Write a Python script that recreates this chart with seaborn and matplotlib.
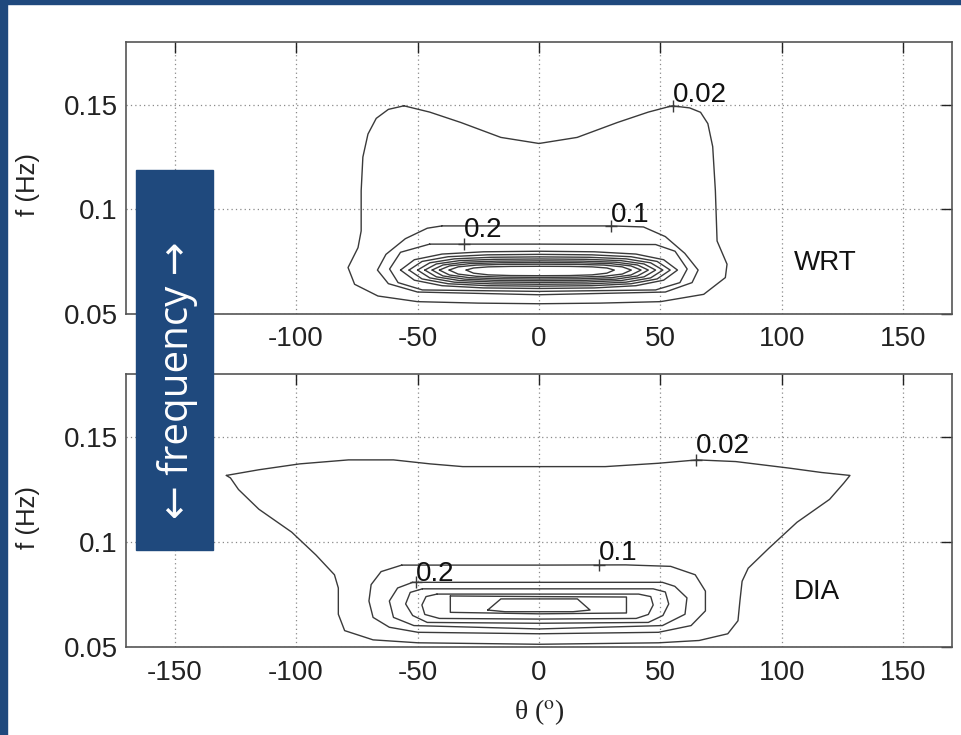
import numpy as np
import pandas as pd
import matplotlib
matplotlib.use("Agg")
import matplotlib.pyplot as plt
import seaborn as sns
from matplotlib.patches import Rectangle

# ---------------- data ----------------
x_ticks = [-150, -100, -50, 0, 50, 100, 150]
x_tick_labels = ["-150", "-100", "-50", "0", "50", "100", "150"]
y_ticks = [0.05, 0.10, 0.15]
y_tick_labels = ["0.05", "0.1", "0.15"]

# WRT panel: outer contours (theta in deg, f in Hz)
wrt_002_theta = [-55.6, -62, -67, -70.4, -72.5, -73.2, -73.2, -74.5, -78.6, -75.9, -66.3, -50, -25, 0, 25,
                 50, 67.8, 76.7, 77.4, 73.3, 72.6, 71.5, 69.5, 66.5, 62, 54.8, 45, 32.2, 15.7, 0, -15.7,
                 -32.1, -45, -55.6]
wrt_002_f = [0.1495, 0.1478, 0.1435, 0.1360, 0.1250, 0.1089, 0.0897, 0.0817, 0.0722, 0.0642, 0.0586, 0.0559,
             0.0552, 0.0549, 0.0552, 0.0559, 0.0594, 0.0674, 0.0738, 0.0849, 0.1089, 0.1300, 0.1410, 0.1464,
             0.1485, 0.1495, 0.1465, 0.1415, 0.1344, 0.1315, 0.1344, 0.1415, 0.1465, 0.1495]
wrt_01_theta = [-40, 0, 30, 43, 52, 60, 65.5, 63, 52, 0, -50, -62, -66.5, -63, -55, -46, -40]
wrt_01_f = [0.0921, 0.0921, 0.0921, 0.0916, 0.0870, 0.0790, 0.0710, 0.0650, 0.0605, 0.0592, 0.0605, 0.0645,
            0.0710, 0.0785, 0.0860, 0.0910, 0.0921]
wrt_02_theta = [-45, 0, 48, 56, 61, 58, 48, 0, -48, -58, -61.5, -57, -45]
wrt_02_f = [0.0834, 0.0834, 0.0832, 0.0800, 0.0715, 0.0650, 0.0615, 0.0608, 0.0615, 0.0650, 0.0715, 0.0795,
            0.0834]
# WRT panel: inner nested contours (levels 0.3 ... 1.0), extents read per ring
wrt_inner_left = [-57, -53.5, -50, -47, -44, -41, -37, -30]
wrt_inner_right = [57, 54, 51, 48, 45, 42, 38, 31]
wrt_inner_top = [0.0800, 0.0785, 0.0773, 0.0763, 0.0754, 0.0746, 0.0738, 0.0728]
wrt_inner_bottom = [0.0622, 0.0633, 0.0642, 0.0651, 0.0659, 0.0667, 0.0675, 0.0683]
wrt_inner_tip_f = 0.0710

# DIA panel contours
dia_002_theta = [-128.7, -115.3, -98.5, -78.4, -59.9, -44.8, -31.4, 0, 27.3, 49.2, 65.1, 81.0, 102.9, 116.3,
                 128.0, 125.5, 119.6, 106.2, 94.5, 86.1, 83.6, 82.7, 81.9, 77.7, 65.9, 49.2, 0, -49.8, -68.3,
                 -80, -82.6, -82.6, -84.2, -91.8, -101.8, -115.3, -123.7, -127, -128.7]
dia_002_f = [0.1317, 0.1344, 0.1372, 0.1391, 0.1391, 0.1372, 0.1359, 0.1359, 0.1359, 0.1375, 0.1391, 0.1383,
             0.1352, 0.1331, 0.1317, 0.1281, 0.1203, 0.1094, 0.0969, 0.0875, 0.0813, 0.0719, 0.0625, 0.0563,
             0.0531, 0.0520, 0.0513, 0.0520, 0.0534, 0.0578, 0.0656, 0.0781, 0.0844, 0.0938, 0.1047, 0.1156,
             0.1250, 0.1305, 0.1317]
dia_01_theta = [-56.5, 0, 35.7, 54.2, 64.3, 68.5, 68.5, 62.6, 49.2, 0, -49.8, -61.6, -68.3, -70, -69.1, -65,
                -56.5]
dia_01_f = [0.0890, 0.0890, 0.0891, 0.0884, 0.0844, 0.0766, 0.0672, 0.0602, 0.0570, 0.0563, 0.0570, 0.0594,
            0.0641, 0.0719, 0.0797, 0.0859, 0.0890]
dia_02_theta = [-52, 0, 50.8, 55.9, 60.9, 60.1, 50.8, 0, -51.5, -59.9, -61.6, -58.2, -52]
dia_02_f = [0.0808, 0.0808, 0.0808, 0.0789, 0.0734, 0.0656, 0.0602, 0.0586, 0.0602, 0.0641, 0.0719, 0.0781,
            0.0808]
dia_03_theta = [-48, 0, 47, 52, 53.4, 51, 45, 0, -46, -52, -54.9, -53, -48]
dia_03_f = [0.0777, 0.0777, 0.0777, 0.0762, 0.0705, 0.0650, 0.0617, 0.0613, 0.0617, 0.0650, 0.0705, 0.0760,
            0.0777]
dia_04_theta = [-42, 0, 41, 46, 47, 45, 40, 0, -41, -47, -48.2, -46.5, -42]
dia_04_f = [0.0752, 0.0752, 0.0752, 0.0740, 0.0700, 0.0655, 0.0636, 0.0633, 0.0636, 0.0655, 0.0700, 0.0740,
            0.0752]
dia_05_theta = [-36.5, 0, 36, 36, 0, -36.5, -36.5]
dia_05_f = [0.0743, 0.0740, 0.0738, 0.0662, 0.0658, 0.0665, 0.0743]
dia_06_theta = [-21.1, -15.7, 15.8, 21.0, 14.0, -14.0, -21.1]
dia_06_f = [0.0676, 0.0729, 0.0729, 0.0676, 0.0668, 0.0668, 0.0676]

# contour label positions (the "+" marks) and texts
wrt_label_theta = [55, 29.5, -31]
wrt_label_f = [0.1495, 0.0921, 0.0834]
dia_label_theta = [64.5, 24.6, -50.5]
dia_label_f = [0.1391, 0.0890, 0.0808]
label_texts = ["0.02", "0.1", "0.2"]
wrt_label_dy = [3, 3, 5]   # text offset in points
dia_label_dy = [5, 4, 1]

panel_names = ["WRT", "DIA"]
panel_name_f = [0.0745, 0.0762]

# ---------------- build tables ----------------
def rings_frame(rings):
    rows = []
    for i, (th, ff) in enumerate(rings):
        for t, v in zip(th, ff):
            rows.append({"theta": t, "f": v, "ring": i})
    return pd.DataFrame(rows)

tmpl_u = [-1, -0.9, -0.7, -0.4, 0, 0.4, 0.7, 0.9, 1]
tmpl_v = [0, 0.55, 0.85, 0.97, 1, 0.97, 0.85, 0.55, 0]

wrt_rings = [(wrt_002_theta, wrt_002_f), (wrt_01_theta, wrt_01_f), (wrt_02_theta, wrt_02_f)]
for L, R, T, B in zip(wrt_inner_left, wrt_inner_right, wrt_inner_top, wrt_inner_bottom):
    mid, half = (L + R) / 2, (R - L) / 2
    th = [mid + u * half for u in tmpl_u] + [mid + u * half for u in tmpl_u[::-1]][1:]
    ff = [wrt_inner_tip_f + v * (T - wrt_inner_tip_f) for v in tmpl_v] + \
         [wrt_inner_tip_f - v * (wrt_inner_tip_f - B) for v in tmpl_v[::-1]][1:]
    wrt_rings.append((th, ff))

dia_rings = [(dia_002_theta, dia_002_f), (dia_01_theta, dia_01_f), (dia_02_theta, dia_02_f),
             (dia_03_theta, dia_03_f), (dia_04_theta, dia_04_f), (dia_05_theta, dia_05_f),
             (dia_06_theta, dia_06_f)]

df_wrt = rings_frame(wrt_rings)
df_dia = rings_frame(dia_rings)

# ---------------- figure ----------------
sns.set_theme(style="white")
plt.rcParams["font.family"] = ["Liberation Sans", "DejaVu Sans"]
plt.rcParams["mathtext.fontset"] = "stix"

W, H = 961, 735
fig = plt.figure(figsize=(W / 100, H / 100), dpi=100)
fig.patch.set_facecolor("white")

ax_top = fig.add_axes([126 / W, 1 - 314 / H, 826 / W, 272 / H])
ax_bot = fig.add_axes([126 / W, 1 - 647 / H, 826 / W, 273 / H])

line_col = "#3a3a3a"
for ax, df, name, nf, lth, lf, ldy in [
    (ax_top, df_wrt, panel_names[0], panel_name_f[0], wrt_label_theta, wrt_label_f, wrt_label_dy),
    (ax_bot, df_dia, panel_names[1], panel_name_f[1], dia_label_theta, dia_label_f, dia_label_dy),
]:
    sns.lineplot(data=df, x="theta", y="f", units="ring", estimator=None, sort=False,
                 color=line_col, linewidth=1.0, ax=ax, legend=False)
    ax.plot(lth, lf, linestyle="none", marker="+", markersize=9, markeredgewidth=1.0, color=line_col)
    for t, v, s, dy in zip(lth, lf, label_texts, ldy):
        ax.annotate(s, (t, v), xytext=(0, dy), textcoords="offset points",
                    ha="left", va="baseline", fontsize=20, color="#111111")
    ax.text(105, nf, name, ha="left", va="center", fontsize=20, color="#111111")

    ax.set_xlim(-170, 170)
    ax.set_ylim(0.05, 0.18)
    ax.set_xticks(x_ticks)
    ax.set_xticklabels(x_tick_labels)
    ax.set_yticks(y_ticks)
    ax.set_yticklabels(y_tick_labels)
    ax.grid(True, linestyle=(0, (1, 2.5)), color="#8a8a8a", linewidth=0.9)
    ax.tick_params(direction="in", length=8, width=1.0, top=True, right=True,
                   labelsize=20, colors="#222222", pad=6)
    ax.tick_params(axis="x", pad=9)
    for sp in ax.spines.values():
        sp.set_visible(True)
        sp.set_color("#555555")
        sp.set_linewidth(1.2)
    ax.set_ylabel("f (Hz)", fontsize=18.5, color="#222222")
    ax.yaxis.set_label_coords(-0.104, 0.475)
    ax.set_xlabel("")

# the -150 label of the upper panel sits under the overlay box in the reference
ax_top.get_xticklabels()[0].set_visible(False)

ax_bot.set_xlabel("\u03b8 ($^{\\mathrm{o}}$)", fontsize=20, color="#222222",
                  family=["Liberation Serif", "DejaVu Serif"])
ax_bot.xaxis.set_label_coords(0.5, -0.185)

# slide frame and overlay box
blue = "#1F497D"
fig.add_artist(Rectangle((0, 0), 7 / W, 1, transform=fig.transFigure, color=blue, zorder=20))
fig.add_artist(Rectangle((0, 1 - 4 / H), 1, 4 / H, transform=fig.transFigure, color=blue, zorder=20))
fig.add_artist(Rectangle((136 / W, 1 - 550 / H), 77 / W, 380 / H, transform=fig.transFigure,
                         color=blue, zorder=20))
fig.text(177 / W, 1 - 380 / H, "\u2190 frequency \u2192", rotation=90, color="white", fontsize=29,
         ha="center", va="center", family=["Open Sans", "DejaVu Sans"], zorder=21)

fig.savefig("out.png", dpi=100)
